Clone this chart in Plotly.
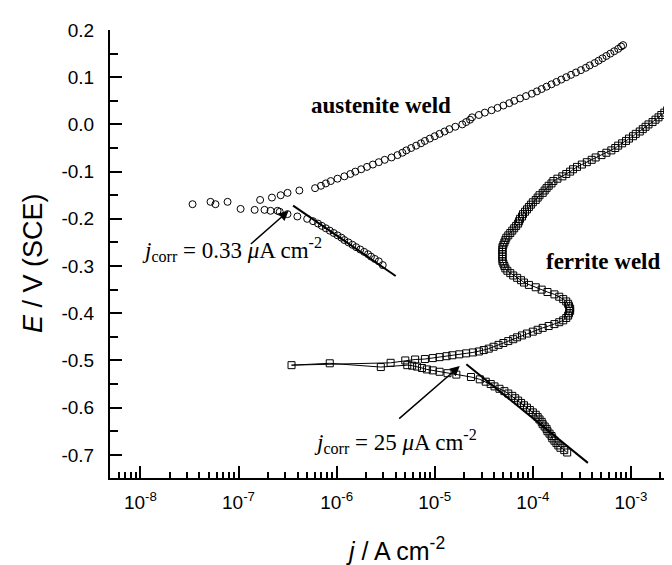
import math
import plotly.graph_objects as go

# ---------------- data ----------------
# Austenite weld: cathodic branch (A cm^-2, V vs SCE)
aus_cat_j = [2.63e-7, 3.16e-7, 3.98e-7, 5.01e-7, 5.75e-7, 6.46e-7, 7.08e-7, 7.76e-7,
             8.51e-7, 9.33e-7, 1.02e-6, 1.12e-6, 1.20e-6, 1.32e-6, 1.45e-6, 1.58e-6,
             1.74e-6, 1.91e-6, 2.09e-6, 2.24e-6, 2.45e-6, 2.69e-6, 2.95e-6]
aus_cat_E = [-0.185, -0.190, -0.195, -0.200, -0.205, -0.210, -0.215, -0.220,
             -0.225, -0.230, -0.235, -0.240, -0.245, -0.250, -0.255, -0.260,
             -0.265, -0.270, -0.275, -0.280, -0.285, -0.290, -0.298]
# Austenite weld: scattered points near the corrosion potential
aus_mid_j = [3.40e-8, 5.18e-8, 5.82e-8, 7.73e-8, 1.05e-7, 1.46e-7, 1.84e-7, 2.12e-7, 2.50e-7]
aus_mid_E = [-0.169, -0.164, -0.169, -0.164, -0.179, -0.181, -0.181, -0.183, -0.183]
# Austenite weld: anodic branch
aus_an_j = [1.66e-7, 2.19e-7, 2.69e-7, 3.16e-7, 4.17e-7, 6.03e-7, 6.92e-7, 7.76e-7,
            8.71e-7, 1.02e-6, 1.20e-6, 1.38e-6, 1.55e-6, 1.78e-6, 2.04e-6, 2.34e-6,
            2.69e-6, 3.09e-6, 3.63e-6, 4.17e-6, 4.68e-6, 5.13e-6, 5.75e-6, 6.46e-6,
            7.24e-6, 7.94e-6, 8.91e-6, 1.00e-5, 1.12e-5, 1.26e-5, 1.41e-5, 1.62e-5,
            1.91e-5, 2.09e-5, 2.29e-5, 2.40e-5, 2.82e-5, 3.24e-5, 3.80e-5, 4.37e-5,
            5.01e-5, 5.75e-5, 6.46e-5, 7.41e-5, 8.51e-5, 9.77e-5, 1.10e-4, 1.23e-4,
            1.38e-4, 1.55e-4, 1.74e-4, 1.95e-4, 2.19e-4, 2.45e-4, 2.75e-4, 3.09e-4,
            3.47e-4, 3.80e-4, 4.27e-4, 4.68e-4, 5.13e-4, 5.62e-4, 6.17e-4, 6.76e-4,
            7.41e-4, 7.94e-4, 8.32e-4]
aus_an_E = [-0.160, -0.155, -0.150, -0.145, -0.140, -0.135, -0.130, -0.125,
            -0.120, -0.115, -0.110, -0.105, -0.100, -0.095, -0.090, -0.085,
            -0.080, -0.075, -0.070, -0.065, -0.060, -0.055, -0.050, -0.045,
            -0.040, -0.035, -0.030, -0.025, -0.020, -0.015, -0.010, -0.005,
            0.000, 0.005, 0.010, 0.015, 0.020, 0.025, 0.030, 0.035,
            0.040, 0.045, 0.050, 0.055, 0.060, 0.065, 0.070, 0.075,
            0.080, 0.085, 0.090, 0.095, 0.100, 0.105, 0.110, 0.115,
            0.120, 0.125, 0.130, 0.135, 0.140, 0.145, 0.150, 0.155,
            0.160, 0.165, 0.168]

# Ferrite weld: cathodic branch, then points around Ecorr, then anodic branch
fer_cat_j = [2.24e-4, 2.09e-4, 1.91e-4, 1.82e-4, 1.74e-4, 1.66e-4, 1.58e-4, 1.55e-4,
             1.48e-4, 1.41e-4, 1.38e-4, 1.32e-4, 1.26e-4, 1.23e-4, 1.17e-4, 1.12e-4,
             1.07e-4, 1.00e-4, 9.33e-5, 8.71e-5, 8.13e-5, 7.59e-5, 7.08e-5, 6.61e-5,
             6.17e-5, 5.62e-5, 5.13e-5, 4.57e-5, 4.07e-5, 3.72e-5, 3.31e-5, 2.88e-5,
             2.34e-5, 1.66e-5, 1.35e-5, 1.12e-5, 9.55e-6, 8.32e-6, 7.41e-6, 6.61e-6,
             5.89e-6, 5.25e-6]
fer_cat_E = [-0.695, -0.690, -0.685, -0.680, -0.675, -0.670, -0.665, -0.660,
             -0.655, -0.650, -0.645, -0.640, -0.635, -0.630, -0.625, -0.620,
             -0.615, -0.610, -0.605, -0.600, -0.595, -0.590, -0.585, -0.580,
             -0.575, -0.570, -0.565, -0.560, -0.555, -0.550, -0.545, -0.540,
             -0.535, -0.530, -0.527, -0.524, -0.521, -0.519, -0.516, -0.513,
             -0.511, -0.510]
fer_mid_j = [2.82e-6, 8.51e-7, 3.47e-7]
fer_mid_E = [-0.514, -0.506, -0.510]
fer_an_j = [3.55e-6, 5.01e-6, 6.31e-6, 7.94e-6, 9.55e-6, 1.12e-5, 1.32e-5, 1.51e-5,
            1.78e-5, 2.09e-5, 2.45e-5, 2.82e-5, 3.16e-5, 3.55e-5, 3.98e-5, 4.47e-5,
            5.01e-5, 5.62e-5, 6.31e-5, 6.92e-5, 7.76e-5, 8.71e-5, 1.00e-4, 1.12e-4,
            1.26e-4, 1.45e-4, 1.66e-4, 1.86e-4, 2.04e-4, 2.19e-4, 2.29e-4, 2.34e-4,
            2.40e-4, 2.40e-4, 2.34e-4, 2.29e-4, 2.19e-4, 2.04e-4, 1.86e-4, 1.66e-4,
            1.41e-4, 1.23e-4, 1.07e-4, 9.12e-5, 8.13e-5, 7.59e-5, 6.92e-5, 6.31e-5,
            5.89e-5, 5.50e-5, 5.25e-5, 5.13e-5, 5.01e-5, 4.90e-5, 4.90e-5, 4.90e-5,
            4.90e-5, 4.90e-5, 4.90e-5, 4.90e-5, 5.01e-5, 5.13e-5, 5.25e-5, 5.37e-5,
            5.62e-5, 5.89e-5, 6.17e-5, 6.46e-5, 6.76e-5, 7.08e-5, 7.24e-5, 7.41e-5,
            7.76e-5, 7.94e-5, 8.32e-5, 8.71e-5, 9.12e-5, 9.55e-5, 1.00e-4, 1.07e-4,
            1.12e-4, 1.17e-4, 1.26e-4, 1.32e-4, 1.38e-4, 1.45e-4, 1.55e-4, 1.62e-4,
            1.78e-4, 2.00e-4, 2.19e-4, 2.40e-4, 2.57e-4, 2.82e-4, 3.16e-4, 3.55e-4,
            3.98e-4, 4.37e-4, 5.01e-4, 5.62e-4, 6.31e-4, 6.92e-4, 7.41e-4, 8.13e-4,
            8.91e-4, 9.55e-4, 1.05e-3, 1.12e-3, 1.23e-3, 1.32e-3, 1.41e-3, 1.51e-3,
            1.66e-3, 1.78e-3, 1.91e-3, 2.04e-3, 2.19e-3, 2.34e-3, 2.51e-3, 2.69e-3,
            2.82e-3]
fer_an_E = [-0.505, -0.500, -0.498, -0.497, -0.495, -0.493, -0.491, -0.489,
            -0.487, -0.485, -0.483, -0.481, -0.478, -0.475, -0.471, -0.467,
            -0.463, -0.459, -0.455, -0.451, -0.447, -0.443, -0.439, -0.435,
            -0.431, -0.427, -0.423, -0.419, -0.415, -0.410, -0.405, -0.400,
            -0.395, -0.390, -0.385, -0.380, -0.375, -0.370, -0.365, -0.360,
            -0.355, -0.350, -0.345, -0.340, -0.335, -0.330, -0.325, -0.320,
            -0.315, -0.310, -0.305, -0.300, -0.295, -0.290, -0.285, -0.280,
            -0.275, -0.270, -0.265, -0.260, -0.255, -0.250, -0.245, -0.240,
            -0.235, -0.230, -0.225, -0.220, -0.215, -0.210, -0.205, -0.200,
            -0.195, -0.190, -0.185, -0.180, -0.175, -0.170, -0.165, -0.160,
            -0.155, -0.150, -0.145, -0.140, -0.135, -0.130, -0.125, -0.120,
            -0.115, -0.110, -0.105, -0.100, -0.095, -0.090, -0.085, -0.080,
            -0.075, -0.070, -0.065, -0.060, -0.055, -0.050, -0.045, -0.040,
            -0.035, -0.030, -0.025, -0.020, -0.015, -0.010, -0.005, 0.000,
            0.005, 0.010, 0.015, 0.020, 0.025, 0.030, 0.035, 0.040,
            0.045]

# Tafel extrapolation lines (apex = corrosion point, then down the cathodic slope)
aus_tafel_j = [3.6e-7, 4.0e-6]
aus_tafel_E = [-0.172, -0.321]
fer_tafel_j = [2.1e-5, 3.64e-4]
fer_tafel_E = [-0.508, -0.717]

# Arrows pointing at the corrosion points: [tail, head]
aus_arrow_j = [1.29e-7, 3.24e-7]
aus_arrow_E = [-0.256, -0.183]
fer_arrow_j = [4.19e-6, 1.80e-5]
fer_arrow_E = [-0.626, -0.512]

# Axis ticks
x_tick_vals = [1e-8, 1e-7, 1e-6, 1e-5, 1e-4, 1e-3]
x_tick_text = ["10<sup>-8</sup>", "10<sup>-7</sup>", "10<sup>-6</sup>",
               "10<sup>-5</sup>", "10<sup>-4</sup>", "10<sup>-3</sup>"]
y_tick_vals = [0.2, 0.1, 0.0, -0.1, -0.2, -0.3, -0.4, -0.5, -0.6, -0.7]
y_tick_text = ["0.2", "0.1", "0.0", "-0.1", "-0.2", "-0.3", "-0.4", "-0.5", "-0.6", "-0.7"]
y_minor_vals = [0.15, 0.05, -0.05, -0.15, -0.25, -0.35, -0.45, -0.55, -0.65]

# ---------------- figure ----------------
SANS = "Liberation Sans, Arial, sans-serif"
SERIF = "Liberation Serif, Times New Roman, serif"

fig = go.Figure()

circ = dict(symbol="circle-open", size=7, color="black", line=dict(width=1, color="black"))
sq = dict(symbol="square-open", size=7, color="black", line=dict(width=1, color="black"))

fig.add_trace(go.Scatter(x=aus_cat_j, y=aus_cat_E, mode="markers", marker=circ, showlegend=False))
fig.add_trace(go.Scatter(x=aus_mid_j, y=aus_mid_E, mode="markers", marker=circ, showlegend=False))
fig.add_trace(go.Scatter(x=aus_an_j, y=aus_an_E, mode="markers", marker=circ, showlegend=False))

fer_j = fer_cat_j + fer_mid_j + fer_an_j
fer_E = fer_cat_E + fer_mid_E + fer_an_E
fig.add_trace(go.Scatter(x=fer_j, y=fer_E, mode="lines+markers", marker=sq,
                         line=dict(color="black", width=1), showlegend=False))

fig.add_trace(go.Scatter(x=aus_tafel_j, y=aus_tafel_E, mode="lines",
                         line=dict(color="black", width=2), showlegend=False))
fig.add_trace(go.Scatter(x=fer_tafel_j, y=fer_tafel_E, mode="lines",
                         line=dict(color="black", width=2), showlegend=False))

for aj, aE in ((aus_arrow_j, aus_arrow_E), (fer_arrow_j, fer_arrow_E)):
    fig.add_annotation(x=math.log10(aj[1]), y=aE[1], ax=math.log10(aj[0]), ay=aE[0],
                       xref="x", yref="y", axref="x", ayref="y", text="",
                       showarrow=True, arrowhead=2, arrowsize=1.3, arrowwidth=1.5,
                       arrowcolor="black", standoff=0)

# text labels
fig.add_annotation(x=math.log10(2.8e-6), y=0.041, xref="x", yref="y", showarrow=False,
                   text="<b>austenite weld</b>", font=dict(family=SERIF, size=23, color="black"))
fig.add_annotation(x=math.log10(5.3e-4), y=-0.291, xref="x", yref="y", showarrow=False,
                   text="<b>ferrite weld</b>", font=dict(family=SERIF, size=23, color="black"))
fig.add_annotation(x=math.log10(1.0e-8), y=-0.266, xref="x", yref="y", showarrow=False,
                   xanchor="left",
                   text="<i>j</i><sub>corr</sub> = 0.33 <i>μ</i>A cm<sup>-2</sup>",
                   font=dict(family=SERIF, size=23, color="black"))
fig.add_annotation(x=math.log10(5.6e-7), y=-0.672, xref="x", yref="y", showarrow=False,
                   xanchor="left",
                   text="<i>j</i><sub>corr</sub> = 25 <i>μ</i>A cm<sup>-2</sup>",
                   font=dict(family=SERIF, size=23, color="black"))

# axis titles
fig.add_annotation(x=-0.135, y=0.48, xref="paper", yref="paper", showarrow=False,
                   xanchor="center", yanchor="middle",
                   textangle=-90, text="<i>E</i> / V (SCE)",
                   font=dict(family=SANS, size=27, color="black"))
fig.add_annotation(x=0.5, y=-0.158, xref="paper", yref="paper", showarrow=False,
                   xanchor="center", yanchor="middle",
                   text="<i>j</i> / A cm<sup>-2</sup>",
                   font=dict(family=SANS, size=25, color="black"))

fig.update_xaxes(type="log", range=[-8.31, -2.50], showline=True, linecolor="black",
                 linewidth=2, mirror=False, ticks="inside", ticklen=12, tickwidth=2,
                 tickcolor="black", tickmode="array", tickvals=x_tick_vals,
                 ticktext=x_tick_text, showgrid=False, zeroline=False,
                 ticklabelstandoff=6,
                 tickfont=dict(family=SANS, size=19, color="black"),
                 minor=dict(ticks="inside", ticklen=6, tickwidth=2, tickcolor="black",
                            dtick="D1", showgrid=False))
fig.update_yaxes(range=[-0.749, 0.2], showline=True, linecolor="black", linewidth=2,
                 mirror=False, ticks="inside", ticklen=12, tickwidth=2, tickcolor="black",
                 tickmode="array", tickvals=y_tick_vals, ticktext=y_tick_text,
                 showgrid=False, zeroline=False,
                 ticklabelstandoff=10,
                 tickfont=dict(family=SANS, size=19, color="black"),
                 minor=dict(ticks="inside", ticklen=8, tickwidth=2, tickcolor="black",
                            tickvals=y_minor_vals, showgrid=False))

fig.update_layout(width=672, height=565, margin=dict(l=102, r=0, t=22, b=95),
                  plot_bgcolor="white", paper_bgcolor="white", showlegend=False)

fig.write_html("out.html")
